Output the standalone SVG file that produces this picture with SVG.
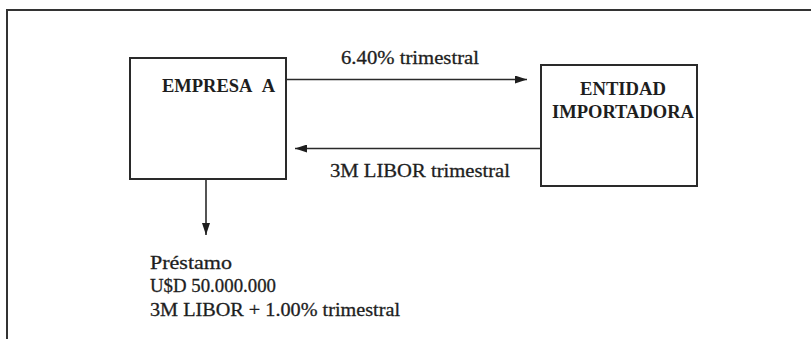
<svg xmlns="http://www.w3.org/2000/svg" width="811" height="339" viewBox="0 0 811 339">
<style>
.frame{fill:none;stroke:#333;stroke-width:2}
.box{fill:#fff;stroke:#2a2a2a;stroke-width:2}
.edge{fill:none;stroke:#2a2a2a;stroke-width:1.6}
.title{font-family:"Liberation Serif","DejaVu Serif","Times New Roman",serif;font-weight:bold;font-size:18px;fill:#1e1e1e}
.lbl{font-family:"Liberation Serif","DejaVu Serif","Times New Roman",serif;font-size:19px;fill:#1e1e1e;stroke:#1e1e1e;stroke-width:0.3}
</style>
<defs>
<marker id="ah" viewBox="0 0 12 8" refX="12" refY="4" markerWidth="12" markerHeight="8" markerUnits="userSpaceOnUse" orient="auto">
<path d="M0,0 L12,4 L0,8 Z" fill="#1e1e1e"/>
</marker>
</defs>
<rect width="811" height="339" fill="#fff"/>
<path class="frame" d="M7,339 L7,10 L811,10"/>
<g id="connectors">
<line class="edge" x1="286" y1="79.5" x2="527" y2="79.5" marker-end="url(#ah)"/>
<line class="edge" x1="541" y1="148.5" x2="295" y2="148.5" marker-end="url(#ah)"/>
<line class="edge" x1="206" y1="179" x2="206" y2="235" marker-end="url(#ah)"/>
<text class="lbl" x="341" y="64" textLength="138" lengthAdjust="spacingAndGlyphs">6.40% trimestral</text>
<text class="lbl" x="330" y="177" textLength="180" lengthAdjust="spacingAndGlyphs">3M LIBOR trimestral</text>
</g>
<g id="empresa-a">
<rect class="box" x="130" y="58" width="156" height="121"/>
<text class="title" x="162" y="92" textLength="113" lengthAdjust="spacingAndGlyphs">EMPRESA&#160;&#160;A</text>
</g>
<g id="entidad-importadora">
<rect class="box" x="541" y="65" width="156" height="121"/>
<text class="title" x="623" y="95" text-anchor="middle" textLength="86" lengthAdjust="spacingAndGlyphs">ENTIDAD</text>
<text class="title" x="623" y="117.5" text-anchor="middle" textLength="142" lengthAdjust="spacingAndGlyphs">IMPORTADORA</text>
</g>
<g id="prestamo">
<text class="lbl" x="150" y="269" textLength="82" lengthAdjust="spacingAndGlyphs">Préstamo</text>
<text class="lbl" x="150" y="292" textLength="126" lengthAdjust="spacingAndGlyphs">U$D 50.000.000</text>
<text class="lbl" x="150" y="316" textLength="250" lengthAdjust="spacingAndGlyphs">3M LIBOR + 1.00% trimestral</text>
</g>
</svg>
